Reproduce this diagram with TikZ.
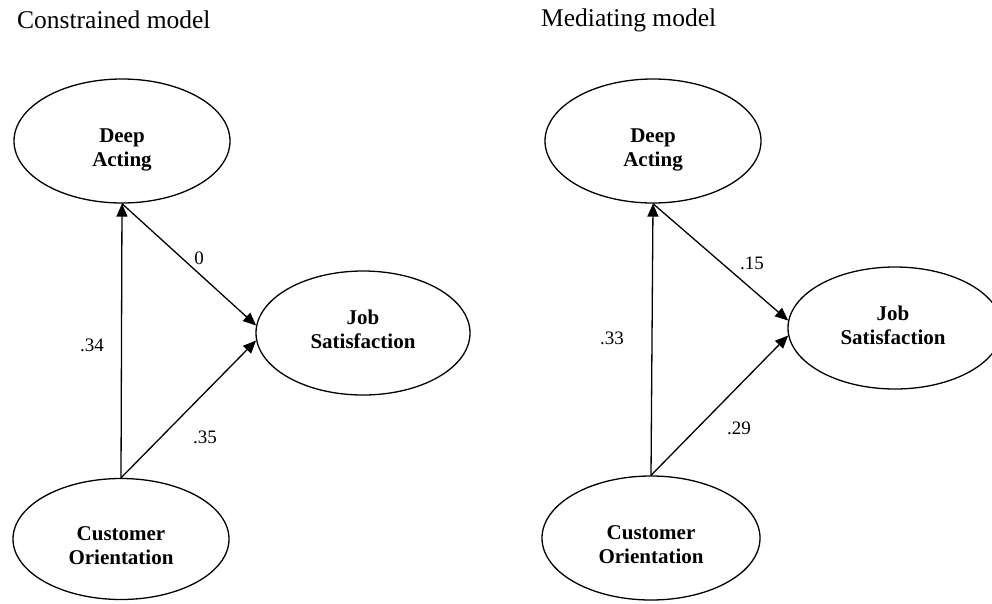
\documentclass[tikz,border=0pt]{standalone}
\usepackage{fontspec}
\setmainfont{Liberation Serif}
\usetikzlibrary{shapes.geometric,arrows.meta}
\tikzset{
  latent/.style={draw, ellipse, line width=1.3pt, inner sep=0pt},
  lbl/.style={font=\bfseries\fontsize{21}{24}\selectfont, align=center, inner sep=0pt},
  coef/.style={font=\fontsize{19}{22}\selectfont, inner sep=0pt},
  ttl/.style={font=\fontsize{25.5}{30}\selectfont, inner sep=0pt, anchor=west},
  path/.style={line width=1.3pt, -{Triangle[length=13pt,width=11pt]}},
}
\begin{document}
\begin{tikzpicture}[x=1pt,y=-1pt]
\useasboundingbox (0,0) rectangle (992,603);
\clip (0,0) rectangle (992,603);
% ---------- left panel ----------
\node[ttl] (t1) at (17,20) {Constrained model};
\node[latent, minimum width=216pt, minimum height=124pt] (da1) at (122,141) {};
\node[latent, minimum width=214pt, minimum height=124pt] (js1) at (363,333) {};
\node[latent, minimum width=216pt, minimum height=121pt] (co1) at (121,539) {};
\node[lbl] (da1t) at (122,150) {Deep\\Acting};
\node[lbl] (js1t) at (363,329) {Job\\Satisfaction};
\node[lbl] (co1t) at (121,546) {Customer\\Orientation};
\draw[path] (co1.north) -- (da1.south);
\draw[path] (da1.south) -- (js1.176);
\draw[path] (co1.north) -- (js1.184);
\node[coef] (c1a) at (199,258) {0};
\node[coef] (c1b) at (92,345) {.34};
\node[coef] (c1c) at (205,437) {.35};
% ---------- right panel ----------
\node[ttl] (t2) at (541,20) {Mediating model};
\node[latent, minimum width=216pt, minimum height=124pt] (da2) at (653,141) {};
\node[latent, minimum width=214pt, minimum height=122pt] (js2) at (895,328) {};
\node[latent, minimum width=218pt, minimum height=124pt] (co2) at (651,538) {};
\node[lbl] (da2t) at (653,150) {Deep\\Acting};
\node[lbl] (js2t) at (893,325) {Job\\Satisfaction};
\node[lbl] (co2t) at (651,545) {Customer\\Orientation};
\draw[path] (co2.north) -- (da2.south);
\draw[path] (da2.south) -- (js2.176);
\draw[path] (co2.north) -- (js2.184);
\node[coef] (c2a) at (752,263) {.15};
\node[coef] (c2b) at (612,338) {.33};
\node[coef] (c2c) at (739,428) {.29};
\end{tikzpicture}
\end{document}
